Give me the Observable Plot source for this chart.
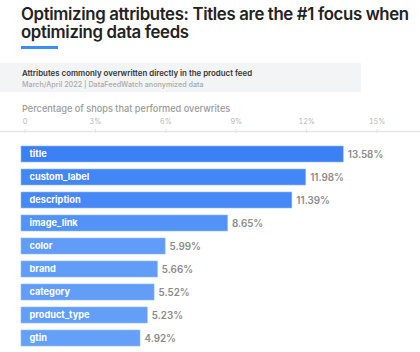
<!DOCTYPE html>
<html><head><meta charset="utf-8">
<script src="https://cdn.jsdelivr.net/npm/d3@7"></script>
<script src="https://cdn.jsdelivr.net/npm/@observablehq/plot@0.6"></script>
<style>
html,body{margin:0;padding:0;background:#fff;width:420px;height:352px;overflow:hidden;font-family:Inter,"Open Sans",sans-serif;}
#wrap{position:relative;width:420px;height:352px;}
.title{position:absolute;left:21px;top:5px;font-size:16.8px;line-height:18px;font-weight:600;color:#222;letter-spacing:-0.35px;white-space:nowrap;}
.uline{position:absolute;left:21px;top:46px;width:37px;height:3px;background:#3b8cf5;}
.box{position:absolute;left:0;top:63px;width:361px;height:29px;background:#f3f4f6;}
.sub1{position:absolute;left:22px;top:68px;font-size:7.9px;font-weight:600;color:#333;white-space:nowrap;}
.sub2{position:absolute;left:22px;top:79.5px;font-size:7.2px;font-weight:500;color:#aaa;white-space:nowrap;}
.axl{position:absolute;left:22px;top:102.5px;font-size:9.2px;font-weight:500;color:#9a9a9a;white-space:nowrap;}
#ax{position:absolute;left:0;top:113px;}
#bars{position:absolute;left:0;top:133px;}
svg{background:transparent !important;}
</style></head>
<body><div id="wrap">
<div class="title">Optimizing attributes: Titles are the #1 focus when<br>optimizing data feeds</div>
<div class="uline"></div>
<div class="box"></div>
<div class="sub1">Attributes commonly overwritten directly in the product feed</div>
<div class="sub2">March/April 2022 | DataFeedWatch anonymized data</div>
<div class="axl">Percentage of shops that performed overwrites</div>
<div id="ax"></div>
<div id="bars"></div>
</div>
<script>
const attributes = ["title","custom_label","description","image_link","color","brand","category","product_type","gtin"];
const shares = [13.58, 11.98, 11.39, 8.65, 5.99, 5.66, 5.52, 5.23, 4.92];
const tickValues = [0, 3, 6, 9, 12, 15];
const tickLabels = ["0", "3%", "6%", "9%", "12%", "15%"];

const data = attributes.map((a, i) => ({attribute: a, share: shares[i]}));
const xOpts = {domain: [0, 15.87], range: [24.5, 397]};

const ax = Plot.plot({
  width: 420, height: 20, marginTop: 18, marginBottom: 0, marginLeft: 0, marginRight: 0,
  style: {background: "transparent", fontFamily: "Inter, sans-serif"},
  x: {...xOpts},
  marks: [
    Plot.axisX(tickValues, {anchor: "top", tickSize: 3, tickPadding: 4.5, stroke: "#e2e2e2",
      tickFormat: d => tickLabels[tickValues.indexOf(d)], fill: "#b5b5b5", fontSize: 7.2, label: null}),
    Plot.frame({anchor: "top", stroke: "#e6e6e6", strokeWidth: 1.5}),
    Plot.tickX(tickValues, {x: d => d, stroke: "#e2e2e2"})
  ]
});
document.getElementById("ax").appendChild(ax);

const bars = Plot.plot({
  width: 420, height: 218, marginTop: 8.5, marginBottom: 0, marginLeft: 0, marginRight: 0,
  style: {background: "transparent", fontFamily: "Inter, sans-serif"},
  x: {...xOpts, axis: null},
  y: {domain: attributes, paddingInner: 0.3, paddingOuter: 0.15, axis: null},
  color: {type: "linear", domain: [4.92, 13.58], range: ["#65a0f8", "#3b80f4"]},
  marks: [
    Plot.barX(data, {x: "share", y: "attribute", fill: "share", insetLeft: -3.5, stroke: "#8fb8fa", strokeWidth: 0.6}),
    Plot.text(data, {x: 0, y: "attribute", text: "attribute", textAnchor: "start", dx: 4.5,
      fill: "white", fontWeight: 700, fontSize: 9.2, letterSpacing: 0.2}),
    Plot.text(data, {x: "share", y: "attribute", text: d => d.share.toFixed(2) + "%", textAnchor: "start", dx: 4,
      fill: "#8a8a8a", fontWeight: 600, fontSize: 9.8})
  ]
});
document.getElementById("bars").appendChild(bars);
</script>
</body></html>
